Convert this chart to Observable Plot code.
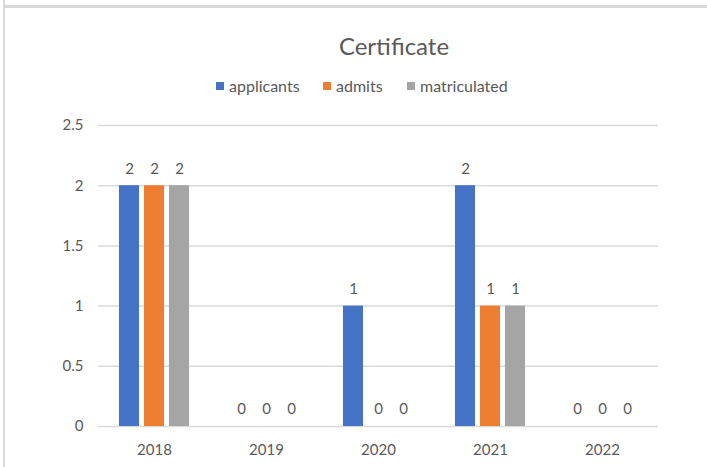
<!DOCTYPE html>
<html>
<head>
<meta charset="utf-8">
<script src="https://cdn.jsdelivr.net/npm/d3@7"></script>
<script src="https://cdn.jsdelivr.net/npm/@observablehq/plot@0.6"></script>
<style>
  html, body { margin: 0; padding: 0; background: #fff; }
  #wrap { position: relative; width: 707px; height: 467px; overflow: hidden; font-family: Lato, "Open Sans", sans-serif; color: #595959; }
  #header { position: relative; height: 105px; }
  #title { position: absolute; left: 294px; width: 200px; top: 30px; text-align: center; font-size: 24px; line-height: 32px; }
  #legend { position: absolute; left: 0; top: 76px; width: 707px; height: 20px; font-size: 16px; line-height: 20px; }
  .item { position: absolute; top: 0; display: flex; align-items: center; }
  .sw { width: 8px; height: 8px; margin-right: 5px; }
  .bTop { position: absolute; left: 3px; top: 5px; width: 704px; height: 3px; background: #d9d9d9; }
  .bLeft { position: absolute; left: 3px; top: 0; width: 2px; height: 467px; background: #d9d9d9; }
  #chart svg { display: block; }
</style>
</head>
<body>
<div id="wrap">
  <div class="bTop"></div>
  <div class="bLeft"></div>
  <div id="header">
    <div id="title"></div>
    <div id="legend"></div>
  </div>
  <div id="chart"></div>
</div>
<script>
const title = "Certificate";
const years = ["2018", "2019", "2020", "2021", "2022"];
const seriesNames = ["applicants", "admits", "matriculated"];
const applicants = [2, 0, 1, 2, 0];
const admits = [2, 0, 0, 1, 0];
const matriculated = [2, 0, 0, 1, 0];
const yTicks = [0, 0.5, 1, 1.5, 2, 2.5];
const colors = ["#4472C4", "#ED7D31", "#A5A5A5"];

const seriesValues = [applicants, admits, matriculated];
const data = [];
years.forEach((year, i) => {
  seriesNames.forEach((s, j) => {
    data.push({year, series: s, value: seriesValues[j][i]});
  });
});

document.getElementById("title").textContent = title;
const legend = document.getElementById("legend");
const legendLefts = ["216px", "323px", "407px"];
seriesNames.forEach((s, j) => {
  const item = document.createElement("div");
  item.className = "item";
  item.style.left = legendLefts[j];
  const sw = document.createElement("div");
  sw.className = "sw";
  sw.style.background = colors[j];
  const label = document.createElement("span");
  label.textContent = s;
  item.appendChild(sw);
  item.appendChild(label);
  legend.appendChild(item);
});

const chart = Plot.plot({
  width: 707,
  height: 362,
  marginTop: 20,
  marginBottom: 41,
  marginLeft: 98,
  marginRight: 49,
  style: {fontFamily: "Lato, 'Open Sans', sans-serif", fontSize: "15px", color: "#595959", background: "transparent"},
  fx: {domain: years, padding: 0, label: null, axis: "bottom", tickSize: 0, tickPadding: 18},
  x: {domain: seriesNames, axis: null, paddingInner: 0.2, paddingOuter: 0.84},
  y: {domain: [0, 2.5], ticks: yTicks, tickFormat: d => String(d), label: null, tickSize: 0, tickPadding: 15},
  color: {domain: seriesNames, range: colors},
  marks: [
    Plot.ruleY(yTicks, {stroke: "#d9d9d9", strokeWidth: 1.5}),
    Plot.barY(data, {fx: "year", x: "series", y: "value", fill: "series"}),
    Plot.text(data, {fx: "year", x: "series", y: "value", text: d => String(d.value), dy: -17, fill: "#595959"})
  ]
});
document.getElementById("chart").appendChild(chart);
</script>
</body>
</html>
